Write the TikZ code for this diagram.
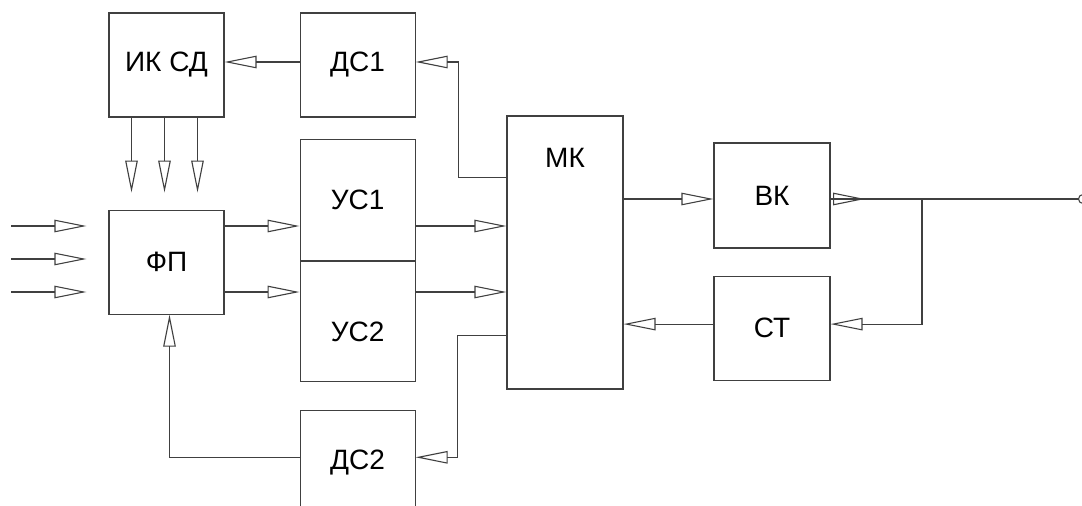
\documentclass[tikz,border=0pt]{standalone}
\usepackage{fontspec}
\setmainfont{Liberation Sans}
\usetikzlibrary{arrows.meta, positioning}

\tikzset{
  blk/.style={draw=black!75, line width=1.1pt, rectangle, minimum width=115pt, minimum height=104pt, inner sep=0pt, font=\fontsize{28}{32}\selectfont},
  wire/.style={draw=black!75, line width=1.1pt},
  arr/.style={wire, -{Triangle[open, length=32pt, width=12.5pt]}},
}

\begin{document}
\begin{tikzpicture}[x=1pt, y=-1pt]
        \useasboundingbox (0,0) rectangle (1082,506);

        % Upper row
        \node (iksd) [blk] at (166.5,65) {ИК СД};
        \node (ds1) [blk, right=75pt of iksd] {ДС1};

        % Amplifiers
        \node (us1) [blk, minimum height=121pt, below=21pt of ds1] {УС1};
        \node (us2) [blk, minimum height=120pt, text height=40pt, text depth=0pt, below=0pt of us1] {УС2};

        % Photodetector
        \node (fp) [blk, below=92pt of iksd] {ФП};

        % Lower driver
        \node (ds2) [blk, below=28pt of us2] {ДС2};

        % Microcontroller
        \node (mk) [blk, minimum width=116pt, minimum height=273pt, label={[anchor=north, yshift=-29pt, font=\fontsize{28}{32}\selectfont]north:МК}] at (565,252.5) {};

        % Right side
        \node (vk) [blk, minimum width=116pt, minimum height=105pt] at (772,195.5) {ВК};
        \node (st) [blk, minimum width=116pt, below=27pt of vk] {СТ};
        \node (term) [circle, draw=black!75, line width=1.1pt, minimum size=9pt, inner sep=0pt] at (1083,199) {};

        % Helper points
        \coordinate (in1) at (11,226);
        \coordinate (in2) at (11,259);
        \coordinate (in3) at (11,292);
        \coordinate (jn) at (922,199);
        \coordinate (stln) at ([yshift=4pt]st.west);

        % Inputs
        \draw[arr, shorten >=22pt] (in1) -- (in1 -| fp.west);
        \draw[arr, shorten >=22pt] (in2) -- (in2 -| fp.west);
        \draw[arr, shorten >=22pt] (in3) -- (in3 -| fp.west);

        % ИК СД to ФП
        \draw[arr, shorten >=17pt] ([xshift=-35pt]iksd.south) -- ([xshift=-35pt]fp.north);
        \draw[arr, shorten >=17pt] ([xshift=-2pt]iksd.south) -- ([xshift=-2pt]fp.north);
        \draw[arr, shorten >=17pt] ([xshift=31pt]iksd.south) -- ([xshift=31pt]fp.north);

        % Signal path
        \draw[arr] (fp.east |- in1) -- (us1.west |- in1);
        \draw[arr] (fp.east |- in3) -- (us2.west |- in3);
        \draw[arr] (us1.east |- in1) -- (mk.west |- in1);
        \draw[arr] (us2.east |- in3) -- (mk.west |- in3);

        % Drivers
        \draw[arr] ([yshift=3pt]ds1.west) -- ([yshift=3pt]iksd.east);
        \draw[arr] ([yshift=75pt]mk.west) -- ++(-48,0) |- ([yshift=3pt]ds1.east);
        \draw[arr] ([yshift=-83pt]mk.west) -- ++(-49,0) |- ([yshift=5pt]ds2.east);
        \draw[arr] ([yshift=5pt]ds2.west) -| ([xshift=3pt]fp.south);

        % Line side
        \draw[arr] (mk.east |- jn) -- (vk.west |- jn);
        \draw[wire] (vk.east |- jn) -- (term.west);
        \draw[arr, shorten >=57pt] (vk.east |- jn) -- (jn);
        \draw[arr] (jn) |- ([yshift=4pt]st.east);
        \draw[arr] (stln) -- (stln -| mk.east);
    \end{tikzpicture}
\end{document}
